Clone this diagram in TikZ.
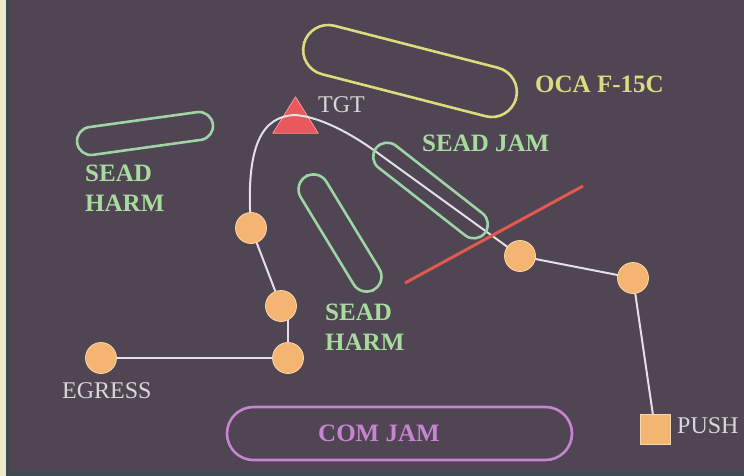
\documentclass[tikz,border=0pt]{standalone}
\usepackage{fontspec}
\setmainfont{Liberation Serif}
\usepackage{xcolor}
\usetikzlibrary{backgrounds}
\definecolor{board}{HTML}{504552}
\definecolor{paper}{HTML}{EEEACB}
\definecolor{frame}{HTML}{3D4A52}
\definecolor{route}{HTML}{E4E0E6}
\definecolor{wpfill}{HTML}{F4B572}
\definecolor{wpedge}{HTML}{F8D6A6}
\definecolor{sead}{HTML}{9ED4A6}
\definecolor{seadtxt}{HTML}{A8DC9E}
\definecolor{oca}{HTML}{DEDB7E}
\definecolor{comjam}{HTML}{C684D2}
\definecolor{fence}{HTML}{E05A4E}
\definecolor{tgtred}{HTML}{E8585C}
\definecolor{tgtedge}{HTML}{F29A94}
\definecolor{ink}{HTML}{DAD6D8}
\pgfdeclarelayer{back}
\pgfdeclarelayer{wires}
\pgfsetlayers{back,wires,main}

\begin{document}
\begin{tikzpicture}[x=1pt, y=-1pt,
  pill/.style={draw, line width=2.6pt, rounded corners=#1/2, minimum height=#1, inner sep=0pt},
  wp/.style={circle, fill=wpfill, draw=wpedge, line width=0.8pt, minimum size=31pt, inner sep=0pt},
  sq/.style={rectangle, fill=wpfill, draw=wpedge, line width=0.8pt, minimum size=30pt, inner sep=0pt},
  lab/.style={text=ink, font=\fontsize{24}{28}\selectfont, anchor=base west, inner sep=0pt},
  tag/.style={font=\bfseries\fontsize{25}{30}\selectfont, inner sep=0pt, align=left},
  leg/.style={draw=route, line width=2pt, line join=round}
]
\useasboundingbox (0,0) rectangle (744,476);

% areas
\node[pill=50, draw=oca, minimum width=219, rotate=-14.4] (ocaPill) at (410,71) {};
\node[pill=28, draw=sead, minimum width=137, rotate=7.9] (harmL) at (145,133.5) {};
\node[pill=30, draw=sead, minimum width=132, rotate=-58.7] (harmM) at (340,233) {};
\node[pill=28, draw=sead, minimum width=138, rotate=-38] (jamPill) at (430.5,190.5) {};
\node[pill=53, draw=comjam, minimum width=345] (comPill) at (399.5,433.5) {};

% route points
\node (tgt) [minimum width=45, minimum height=36, inner sep=0pt] at (295.5,115) {};
\node[wp] (wp1) at (251,228) {};
\node[wp] (wp2) at (281,306) {};
\node[wp] (wp3) at (288,358) {};
\node[wp] (egr) at (101,358) {};
\node[wp] (wpA) at (520,256) {};
\node[wp] (wpB) at (633,278) {};
\node[sq] (push) at (655,429) {};
\coordinate (bend) at (375,151);
\coordinate (fa) at (405,283);
\coordinate (fb) at (583,186);

% labels
\node[lab] (tgtLab) at (318,113) {TGT};
\node[lab] (egrLab) at (62,398) {EGRESS};
\node[lab] (pushLab) at (677,433) {PUSH};
\node[tag, text=seadtxt, anchor=north west] (harmLLab) at (85,165) {SEAD\\HARM};
\node[tag, text=seadtxt, anchor=north west] (harmMLab) at (325,304) {SEAD\\HARM};
\node[tag, text=seadtxt, anchor=base west] (jamLab) at (422,152) {SEAD JAM};
\node[tag, text=oca, anchor=base west] (ocaLab) at (535,93) {OCA F-15C};
\node[tag, text=comjam, anchor=base west] (comLab) at (318,441) {COM JAM};

\begin{pgfonlayer}{back}
  \fill[board] (0,0) rectangle (744,476);
  \fill[paper] (0,0) rectangle (6,476);
  \fill[frame] (6,0) rectangle (9,476);
  \fill[frame] (9,472) rectangle (744,476);
  \filldraw[fill=tgtred, draw=tgtedge, line width=0.8pt, line join=round]
    (tgt.north) -- (tgt.south east) -- (tgt.south west) -- cycle;
\end{pgfonlayer}

\begin{pgfonlayer}{wires}
  \draw[leg] (wp1.center) .. controls (245,145) and (262,116) .. (tgt.center)
    .. controls (320,117) and (350,133) .. (bend) -- (wpA.center) -- (wpB.center) -- (push.center);
  \draw[leg] (wp1.center) -- (wp2.center);
  \draw[leg] (wp3 |- wp2) -- (wp3.center);
  \draw[leg] (egr.center) -- (wp3.center);
  \draw[fence, line width=3pt] (fa) -- (fb);
\end{pgfonlayer}
\end{tikzpicture}
\end{document}
